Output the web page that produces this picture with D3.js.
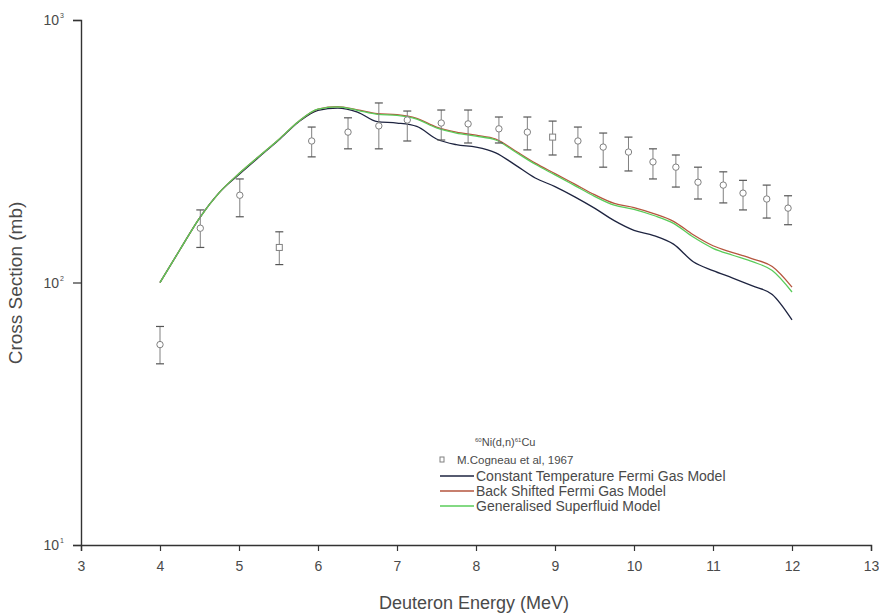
<!DOCTYPE html>
<html>
<head>
<meta charset="utf-8">
<script src="https://cdn.jsdelivr.net/npm/d3@7"></script>
<style>
  body { margin: 0; background: #fff; }
  text { font-family: "Liberation Sans", Arial, sans-serif; fill: #4a4a4a; }
</style>
</head>
<body>
<div id="chart"></div>
<script>
// energy grid for the model curves (MeV)
var modelEnergy = [4.00, 4.25, 4.50, 4.75, 5.00, 5.25, 5.50, 5.75, 6.00, 6.25, 6.50, 6.75, 7.00, 7.25, 7.50, 7.75,
                   8.00, 8.25, 8.50, 8.75, 9.00, 9.25, 9.50, 9.75, 10.00, 10.25, 10.50, 10.75, 11.00, 11.25, 11.50, 11.75, 12.00];

var ctfgValues = [100, 133, 176, 220, 258, 300, 348, 408, 453, 462, 446, 410, 405, 393, 352, 335,
                  328, 312, 280, 250, 232, 212, 192, 172, 158, 151, 140, 120, 111, 104, 97, 90, 72];

var bsfgValues = [100, 133, 176, 220, 260, 302, 350, 410, 458, 468, 455, 440, 436, 422, 391, 374,
                  364, 352, 317, 285, 260, 237, 216, 200, 193, 183, 171, 152, 138, 130, 123, 115, 96];

var gsmValues  = [100, 133, 176, 220, 260, 302, 350, 410, 458, 467, 453, 437, 433, 419, 388, 371,
                  361, 349, 314, 282, 257, 234, 213, 197, 190, 180, 168, 149, 135, 127, 120, 111, 92];

// experimental points, M.Cogneau et al, 1967
var expEnergy = [4.00, 4.51, 5.01, 5.51, 5.92, 6.38, 6.77, 7.13, 7.56, 7.90, 8.29, 8.65,
                 8.97, 9.29, 9.61, 9.93, 10.24, 10.53, 10.81, 11.13, 11.38, 11.68, 11.95];
var expValue  = [58, 161, 215, 136, 346, 374, 395, 416, 405, 402, 385, 374,
                 358, 346, 328, 314, 288, 275, 241, 235, 219, 208, 192];
var expLow    = [49, 136, 178, 117, 301, 323, 323, 346, 349, 340, 340, 320,
                 306, 301, 275, 266, 248, 231, 208, 201, 189, 176, 166];
var expHigh   = [68, 189, 248, 156, 391, 424, 483, 450, 454, 454, 427, 427,
                 412, 391, 371, 358, 323, 306, 275, 264, 245, 235, 214];
var expSquare = [false, false, false, true, false, false, false, false, false, false, false, false,
                 true, false, false, false, false, false, false, false, false, false, false];

var xTicks = [3, 4, 5, 6, 7, 8, 9, 10, 11, 12, 13];
var yTicks = [10, 100, 1000];

var seriesNames  = ['Constant Temperature Fermi Gas Model', 'Back Shifted Fermi Gas Model', 'Generalised Superfluid Model'];
var seriesColors = ['#1e2440', '#b5553e', '#5acc5a'];

var width = 879, height = 616;
var margin = {top: 20, right: 8, bottom: 71, left: 81};

var svg = d3.select('#chart').append('svg')
  .attr('width', width)
  .attr('height', height);

var x = d3.scaleLinear().domain([3, 13]).range([margin.left, width - margin.right]);
var y = d3.scaleLog().domain([10, 1000]).range([height - margin.bottom, margin.top]);

var axisColor = '#333';

// x axis
var xAxis = svg.append('g')
  .attr('transform', 'translate(0,' + (height - margin.bottom) + ')');

xAxis.call(d3.axisBottom(x).tickValues(d3.range(3.5, 13, 1)).tickSize(3).tickFormat(''));
xAxis.call(d3.axisBottom(x).tickValues(xTicks).tickSize(6).tickPadding(10).tickFormat(d3.format('d')));
xAxis.selectAll('.domain').attr('stroke', axisColor).attr('stroke-width', 1.4);
xAxis.selectAll('line').attr('stroke', axisColor).attr('stroke-width', 1.2);
xAxis.selectAll('text').style('font-size', '14px').attr('fill', '#4a4a4a');

// y axis with minor ticks
var yMinor = [];
[10, 100].forEach(function(dec) {
  for (var k = 2; k <= 9; k++) { yMinor.push(dec * k); }
});

var yAxis = svg.append('g')
  .attr('transform', 'translate(' + margin.left + ',0)');

yAxis.call(d3.axisLeft(y).tickValues(yMinor).tickSize(4).tickFormat(''));
yAxis.call(d3.axisLeft(y).tickValues(yTicks).tickSize(8).tickFormat(''));
yAxis.selectAll('.domain').attr('stroke', axisColor).attr('stroke-width', 1.4);
yAxis.selectAll('line').attr('stroke', axisColor).attr('stroke-width', 1.2);

// decade labels as 10 with superscript exponent
var yLab = svg.append('g');
yTicks.forEach(function(v) {
  yLab.append('text')
    .attr('x', margin.left - 22)
    .attr('y', y(v) + 5)
    .attr('text-anchor', 'end')
    .style('font-size', '14px')
    .text('10');
  yLab.append('text')
    .attr('x', margin.left - 21)
    .attr('y', y(v) - 2)
    .style('font-size', '7px')
    .text(Math.round(Math.log10(v)));
});

// axis titles
svg.append('text')
  .attr('x', 474)
  .attr('y', 609)
  .attr('text-anchor', 'middle')
  .style('font-size', '18px')
  .text('Deuteron Energy (MeV)');

svg.append('text')
  .attr('transform', 'translate(22,' + 283 + ') rotate(-90)')
  .attr('text-anchor', 'middle')
  .style('font-size', '19px')
  .text('Cross Section (mb)');

// model curves
var line = d3.line()
  .x(function(d) { return x(d[0]); })
  .y(function(d) { return y(d[1]); })
  .curve(d3.curveMonotoneX);

var curves = [ctfgValues, bsfgValues, gsmValues];
curves.forEach(function(vals, i) {
  var pts = modelEnergy.map(function(e, j) { return [e, vals[j]]; });
  svg.append('path')
    .datum(pts)
    .attr('fill', 'none')
    .attr('stroke', seriesColors[i])
    .attr('stroke-width', 1.3)
    .attr('d', line);
});

// experimental points
var expData = expEnergy.map(function(e, i) {
  return {e: e, v: expValue[i], lo: expLow[i], hi: expHigh[i], sq: expSquare[i]};
});

var pointColor = '#808080';
var pg = svg.append('g').attr('class', 'points');

var pts = pg.selectAll('.pt')
  .data(expData)
  .enter().append('g')
  .attr('class', 'pt');

pts.append('line')
  .attr('x1', function(d) { return x(d.e); })
  .attr('x2', function(d) { return x(d.e); })
  .attr('y1', function(d) { return y(d.hi); })
  .attr('y2', function(d) { return y(d.lo); })
  .attr('stroke', pointColor)
  .attr('stroke-width', 1);

pts.selectAll('.cap')
  .data(function(d) { return [{e: d.e, v: d.hi}, {e: d.e, v: d.lo}]; })
  .enter().append('line')
  .attr('x1', function(d) { return x(d.e) - 4; })
  .attr('x2', function(d) { return x(d.e) + 4; })
  .attr('y1', function(d) { return y(d.v); })
  .attr('y2', function(d) { return y(d.v); })
  .attr('stroke', '#555')
  .attr('stroke-width', 1.2);

pts.filter(function(d) { return !d.sq; }).append('circle')
  .attr('cx', function(d) { return x(d.e); })
  .attr('cy', function(d) { return y(d.v); })
  .attr('r', 3.2)
  .attr('fill', '#fff')
  .attr('stroke', pointColor)
  .attr('stroke-width', 1);

pts.filter(function(d) { return d.sq; }).append('rect')
  .attr('x', function(d) { return x(d.e) - 3; })
  .attr('y', function(d) { return y(d.v) - 3; })
  .attr('width', 6)
  .attr('height', 6)
  .attr('fill', '#fff')
  .attr('stroke', pointColor)
  .attr('stroke-width', 1);

// legend
var legend = svg.append('g').attr('transform', 'translate(440,0)');

var title = legend.append('text')
  .attr('x', 35)
  .attr('y', 446)
  .style('font-size', '11px');
title.append('tspan').attr('dy', -4).style('font-size', '6px').text('60');
title.append('tspan').attr('dy', 4).text('Ni(d,n)');
title.append('tspan').attr('dy', -4).style('font-size', '6px').text('61');
title.append('tspan').attr('dy', 4).text('Cu');

legend.append('rect')
  .attr('x', 0)
  .attr('y', 457)
  .attr('width', 4)
  .attr('height', 5)
  .attr('fill', 'none')
  .attr('stroke', pointColor);

legend.append('text')
  .attr('x', 17)
  .attr('y', 464)
  .style('font-size', '11.5px')
  .text('M.Cogneau et al, 1967');

seriesNames.forEach(function(name, i) {
  var yy = 476 + i * 15;
  legend.append('line')
    .attr('x1', 0).attr('x2', 34)
    .attr('y1', yy).attr('y2', yy)
    .attr('stroke', seriesColors[i])
    .attr('stroke-width', 1.3);
  legend.append('text')
    .attr('x', 36)
    .attr('y', yy + 5)
    .style('font-size', '14px')
    .text(name);
});
</script>
</body>
</html>
